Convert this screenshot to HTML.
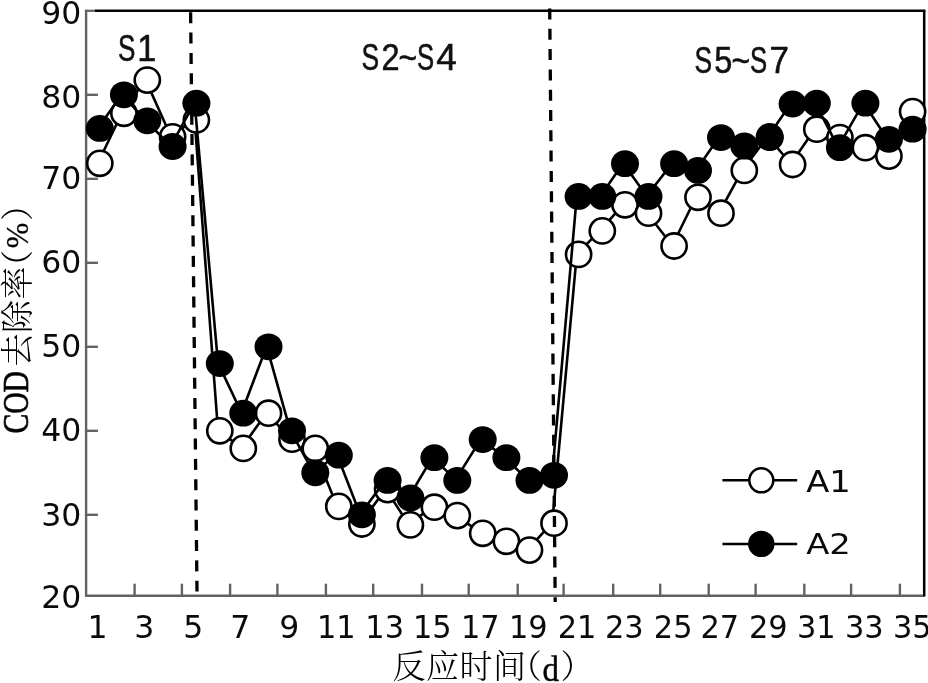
<!DOCTYPE html>
<html lang="zh"><head><meta charset="utf-8"><title>COD去除率</title>
<style>html,body{margin:0;padding:0;background:#fff;overflow:hidden}svg{display:block}.n{font-family:"DejaVu Sans","Liberation Sans",sans-serif;fill:#0a0a0a}.s{font-family:"Liberation Sans","DejaVu Sans",sans-serif;fill:#111;stroke:#111;stroke-width:0.55px}.c{font-family:"Liberation Serif","Noto Serif CJK SC",serif;fill:#000;font-weight:300}</style></head><body>
<svg width="928" height="683" viewBox="0 0 928 683" style="filter:blur(0.45px)">
<rect width="928" height="683" fill="#fff"/>
<g stroke="#626262" stroke-width="2.4" fill="none">
<line x1="86.1" y1="9.8" x2="86.1" y2="596.55"/>
<line x1="85.25" y1="595.7" x2="924.2" y2="595.7"/>
<line x1="85.25" y1="10.8" x2="96.1" y2="10.8" stroke-width="2.2"/>
<line x1="86.1" y1="514.8" x2="97.9" y2="514.8"/>
<line x1="86.1" y1="430.8" x2="97.9" y2="430.8"/>
<line x1="86.1" y1="346.8" x2="97.9" y2="346.8"/>
<line x1="86.1" y1="262.8" x2="97.9" y2="262.8"/>
<line x1="86.1" y1="178.8" x2="97.9" y2="178.8"/>
<line x1="86.1" y1="94.8" x2="97.9" y2="94.8"/>
<line x1="134.6" y1="595.7" x2="134.6" y2="583.7"/>
<line x1="181.9" y1="595.7" x2="181.9" y2="583.7"/>
<line x1="230.1" y1="595.7" x2="230.1" y2="583.7"/>
<line x1="277.4" y1="595.7" x2="277.4" y2="583.7"/>
<line x1="325.9" y1="595.7" x2="325.9" y2="583.7"/>
<line x1="373.2" y1="595.7" x2="373.2" y2="583.7"/>
<line x1="422.0" y1="595.7" x2="422.0" y2="583.7"/>
<line x1="468.7" y1="595.7" x2="468.7" y2="583.7"/>
<line x1="517.7" y1="595.7" x2="517.7" y2="583.7"/>
<line x1="563.6" y1="595.7" x2="563.6" y2="583.7"/>
<line x1="613.2" y1="595.7" x2="613.2" y2="583.7"/>
<line x1="660.2" y1="595.7" x2="660.2" y2="583.7"/>
<line x1="708.7" y1="595.7" x2="708.7" y2="583.7"/>
<line x1="755.6" y1="595.7" x2="755.6" y2="583.7"/>
<line x1="804.3" y1="595.7" x2="804.3" y2="583.7"/>
<line x1="851.1" y1="595.7" x2="851.1" y2="583.7"/>
<line x1="899.9" y1="595.7" x2="899.9" y2="583.7"/>
</g>
<g stroke="#000" stroke-width="2.5" fill="none">
<line x1="95.1" y1="10.8" x2="925.45" y2="10.8"/>
<line x1="924.2" y1="10.8" x2="924.2" y2="596.55"/>
</g>
<polyline points="99.8,163.3 123.9,113.3 147.3,80.1 172.6,136.8 196.4,120.0 219.8,430.8 243.3,448.4 268.5,413.2 292.0,439.2 315.3,448.4 338.8,506.4 361.9,524.0 387.6,489.6 410.4,524.9 434.4,507.2 457.3,515.6 482.7,533.3 506.4,541.3 529.5,550.1 554.0,523.2 578.6,254.4 602.3,230.9 625.0,204.8 648.5,213.2 674.1,246.0 698.0,197.3 721.0,213.2 744.3,170.4 769.7,136.8 792.6,164.5 816.8,129.2 839.9,137.6 865.4,147.7 888.9,156.1 912.6,111.6" fill="none" stroke="#000" stroke-width="2.6" stroke-linejoin="round" transform="translate(-1.8,-0.5)"/>
<circle cx="99.8" cy="163.3" r="12.6" fill="#fff" stroke="#000" stroke-width="2.6"/>
<circle cx="123.9" cy="113.3" r="12.6" fill="#fff" stroke="#000" stroke-width="2.6"/>
<circle cx="147.3" cy="80.1" r="12.6" fill="#fff" stroke="#000" stroke-width="2.6"/>
<circle cx="172.6" cy="136.8" r="12.6" fill="#fff" stroke="#000" stroke-width="2.6"/>
<circle cx="196.4" cy="120.0" r="12.6" fill="#fff" stroke="#000" stroke-width="2.6"/>
<circle cx="219.8" cy="430.8" r="12.6" fill="#fff" stroke="#000" stroke-width="2.6"/>
<circle cx="243.3" cy="448.4" r="12.6" fill="#fff" stroke="#000" stroke-width="2.6"/>
<circle cx="268.5" cy="413.2" r="12.6" fill="#fff" stroke="#000" stroke-width="2.6"/>
<circle cx="292.0" cy="439.2" r="12.6" fill="#fff" stroke="#000" stroke-width="2.6"/>
<circle cx="315.3" cy="448.4" r="12.6" fill="#fff" stroke="#000" stroke-width="2.6"/>
<circle cx="338.8" cy="506.4" r="12.6" fill="#fff" stroke="#000" stroke-width="2.6"/>
<circle cx="361.9" cy="524.0" r="12.6" fill="#fff" stroke="#000" stroke-width="2.6"/>
<circle cx="387.6" cy="489.6" r="12.6" fill="#fff" stroke="#000" stroke-width="2.6"/>
<circle cx="410.4" cy="524.9" r="12.6" fill="#fff" stroke="#000" stroke-width="2.6"/>
<circle cx="434.4" cy="507.2" r="12.6" fill="#fff" stroke="#000" stroke-width="2.6"/>
<circle cx="457.3" cy="515.6" r="12.6" fill="#fff" stroke="#000" stroke-width="2.6"/>
<circle cx="482.7" cy="533.3" r="12.6" fill="#fff" stroke="#000" stroke-width="2.6"/>
<circle cx="506.4" cy="541.3" r="12.6" fill="#fff" stroke="#000" stroke-width="2.6"/>
<circle cx="529.5" cy="550.1" r="12.6" fill="#fff" stroke="#000" stroke-width="2.6"/>
<circle cx="554.0" cy="523.2" r="12.6" fill="#fff" stroke="#000" stroke-width="2.6"/>
<circle cx="578.6" cy="254.4" r="12.6" fill="#fff" stroke="#000" stroke-width="2.6"/>
<circle cx="602.3" cy="230.9" r="12.6" fill="#fff" stroke="#000" stroke-width="2.6"/>
<circle cx="625.0" cy="204.8" r="12.6" fill="#fff" stroke="#000" stroke-width="2.6"/>
<circle cx="648.5" cy="213.2" r="12.6" fill="#fff" stroke="#000" stroke-width="2.6"/>
<circle cx="674.1" cy="246.0" r="12.6" fill="#fff" stroke="#000" stroke-width="2.6"/>
<circle cx="698.0" cy="197.3" r="12.6" fill="#fff" stroke="#000" stroke-width="2.6"/>
<circle cx="721.0" cy="213.2" r="12.6" fill="#fff" stroke="#000" stroke-width="2.6"/>
<circle cx="744.3" cy="170.4" r="12.6" fill="#fff" stroke="#000" stroke-width="2.6"/>
<circle cx="769.7" cy="136.8" r="12.6" fill="#fff" stroke="#000" stroke-width="2.6"/>
<circle cx="792.6" cy="164.5" r="12.6" fill="#fff" stroke="#000" stroke-width="2.6"/>
<circle cx="816.8" cy="129.2" r="12.6" fill="#fff" stroke="#000" stroke-width="2.6"/>
<circle cx="839.9" cy="137.6" r="12.6" fill="#fff" stroke="#000" stroke-width="2.6"/>
<circle cx="865.4" cy="147.7" r="12.6" fill="#fff" stroke="#000" stroke-width="2.6"/>
<circle cx="888.9" cy="156.1" r="12.6" fill="#fff" stroke="#000" stroke-width="2.6"/>
<circle cx="912.6" cy="111.6" r="12.6" fill="#fff" stroke="#000" stroke-width="2.6"/>
<polyline points="99.8,128.4 123.9,94.8 147.3,120.8 172.6,146.5 196.4,103.2 219.8,363.6 243.3,413.2 268.5,346.8 292.0,430.8 315.3,472.8 338.8,455.2 361.9,514.8 387.6,480.4 410.4,498.0 434.4,457.7 457.3,480.4 482.7,439.6 506.4,457.7 529.5,480.4 554.0,475.3 578.6,196.4 602.3,196.4 625.0,163.7 648.5,196.4 674.1,163.7 698.0,170.4 721.0,137.6 744.3,146.0 769.7,137.6 792.6,104.0 816.8,103.2 839.9,147.7 865.4,103.2 888.9,139.3 912.6,129.2" fill="none" stroke="#000" stroke-width="2.6" stroke-linejoin="round" transform="translate(-1.8,-0.5)"/>
<ellipse cx="99.8" cy="128.4" rx="14" ry="13.4" fill="#000"/>
<ellipse cx="123.9" cy="94.8" rx="14" ry="13.4" fill="#000"/>
<ellipse cx="147.3" cy="120.8" rx="14" ry="13.4" fill="#000"/>
<ellipse cx="172.6" cy="146.5" rx="14" ry="13.4" fill="#000"/>
<ellipse cx="196.4" cy="103.2" rx="14" ry="13.4" fill="#000"/>
<ellipse cx="219.8" cy="363.6" rx="14" ry="13.4" fill="#000"/>
<ellipse cx="243.3" cy="413.2" rx="14" ry="13.4" fill="#000"/>
<ellipse cx="268.5" cy="346.8" rx="14" ry="13.4" fill="#000"/>
<ellipse cx="292.0" cy="430.8" rx="14" ry="13.4" fill="#000"/>
<ellipse cx="315.3" cy="472.8" rx="14" ry="13.4" fill="#000"/>
<ellipse cx="338.8" cy="455.2" rx="14" ry="13.4" fill="#000"/>
<ellipse cx="361.9" cy="514.8" rx="14" ry="13.4" fill="#000"/>
<ellipse cx="387.6" cy="480.4" rx="14" ry="13.4" fill="#000"/>
<ellipse cx="410.4" cy="498.0" rx="14" ry="13.4" fill="#000"/>
<ellipse cx="434.4" cy="457.7" rx="14" ry="13.4" fill="#000"/>
<ellipse cx="457.3" cy="480.4" rx="14" ry="13.4" fill="#000"/>
<ellipse cx="482.7" cy="439.6" rx="14" ry="13.4" fill="#000"/>
<ellipse cx="506.4" cy="457.7" rx="14" ry="13.4" fill="#000"/>
<ellipse cx="529.5" cy="480.4" rx="14" ry="13.4" fill="#000"/>
<ellipse cx="554.0" cy="475.3" rx="14" ry="13.4" fill="#000"/>
<ellipse cx="578.6" cy="196.4" rx="14" ry="13.4" fill="#000"/>
<ellipse cx="602.3" cy="196.4" rx="14" ry="13.4" fill="#000"/>
<ellipse cx="625.0" cy="163.7" rx="14" ry="13.4" fill="#000"/>
<ellipse cx="648.5" cy="196.4" rx="14" ry="13.4" fill="#000"/>
<ellipse cx="674.1" cy="163.7" rx="14" ry="13.4" fill="#000"/>
<ellipse cx="698.0" cy="170.4" rx="14" ry="13.4" fill="#000"/>
<ellipse cx="721.0" cy="137.6" rx="14" ry="13.4" fill="#000"/>
<ellipse cx="744.3" cy="146.0" rx="14" ry="13.4" fill="#000"/>
<ellipse cx="769.7" cy="137.6" rx="14" ry="13.4" fill="#000"/>
<ellipse cx="792.6" cy="104.0" rx="14" ry="13.4" fill="#000"/>
<ellipse cx="816.8" cy="103.2" rx="14" ry="13.4" fill="#000"/>
<ellipse cx="839.9" cy="147.7" rx="14" ry="13.4" fill="#000"/>
<ellipse cx="865.4" cy="103.2" rx="14" ry="13.4" fill="#000"/>
<ellipse cx="888.9" cy="139.3" rx="14" ry="13.4" fill="#000"/>
<ellipse cx="912.6" cy="129.2" rx="14" ry="13.4" fill="#000"/>
<g stroke="#000" stroke-width="3.3" fill="none">
<line x1="190.6" y1="12.3" x2="197" y2="591.6" stroke-dasharray="11 9.3"/>
<line x1="549.7" y1="8.5" x2="555.2" y2="602" stroke-dasharray="11 9.3"/>
</g>
<g stroke="#000" stroke-width="2.5">
<line x1="722.4" y1="480.3" x2="797.2" y2="480.3"/>
<line x1="722.4" y1="543.9" x2="797.2" y2="543.9"/>
<circle cx="761.3" cy="480.3" r="12" fill="#fff"/>
</g>
<circle cx="761.3" cy="543.9" r="13.2" fill="#000"/>
<text class="n" x="806.2" y="492.4" font-size="30" textLength="44.6" lengthAdjust="spacingAndGlyphs">A1</text>
<text class="n" x="806.2" y="554" font-size="29" textLength="44.6" lengthAdjust="spacingAndGlyphs">A2</text>
<text class="n" x="81.4" y="608.3" font-size="31.5" text-anchor="end">20</text>
<text class="n" x="81.4" y="525.6" font-size="31.5" text-anchor="end">30</text>
<text class="n" x="81.4" y="440.9" font-size="31.5" text-anchor="end">40</text>
<text class="n" x="81.4" y="357.0" font-size="31.5" text-anchor="end">50</text>
<text class="n" x="81.4" y="273.1" font-size="31.5" text-anchor="end">60</text>
<text class="n" x="81.4" y="189.2" font-size="31.5" text-anchor="end">70</text>
<text class="n" x="81.4" y="107.8" font-size="31.5" text-anchor="end">80</text>
<text class="n" x="81.4" y="23.9" font-size="31.5" text-anchor="end">90</text>
<text class="n" x="97.6" y="638.4" font-size="31.5" text-anchor="middle">1</text>
<text class="n" x="144.3" y="638.4" font-size="31.5" text-anchor="middle">3</text>
<text class="n" x="193.3" y="638.4" font-size="31.5" text-anchor="middle">5</text>
<text class="n" x="240.3" y="638.4" font-size="31.5" text-anchor="middle">7</text>
<text class="n" x="289.2" y="638.4" font-size="31.5" text-anchor="middle">9</text>
<text class="n" x="336.3" y="638.4" font-size="31.5" text-anchor="middle" textLength="38.7" lengthAdjust="spacingAndGlyphs">11</text>
<text class="n" x="384.7" y="638.4" font-size="31.5" text-anchor="middle" textLength="38.7" lengthAdjust="spacingAndGlyphs">13</text>
<text class="n" x="432.3" y="638.4" font-size="31.5" text-anchor="middle" textLength="38.7" lengthAdjust="spacingAndGlyphs">15</text>
<text class="n" x="480.3" y="638.4" font-size="31.5" text-anchor="middle" textLength="38.7" lengthAdjust="spacingAndGlyphs">17</text>
<text class="n" x="528.3" y="638.4" font-size="31.5" text-anchor="middle" textLength="38.7" lengthAdjust="spacingAndGlyphs">19</text>
<text class="n" x="577.1" y="638.4" font-size="31.5" text-anchor="middle" textLength="38.7" lengthAdjust="spacingAndGlyphs">21</text>
<text class="n" x="624.3" y="638.4" font-size="31.5" text-anchor="middle" textLength="38.7" lengthAdjust="spacingAndGlyphs">23</text>
<text class="n" x="673.2" y="638.4" font-size="31.5" text-anchor="middle" textLength="38.7" lengthAdjust="spacingAndGlyphs">25</text>
<text class="n" x="719.8" y="638.4" font-size="31.5" text-anchor="middle" textLength="38.7" lengthAdjust="spacingAndGlyphs">27</text>
<text class="n" x="768.3" y="638.4" font-size="31.5" text-anchor="middle" textLength="38.7" lengthAdjust="spacingAndGlyphs">29</text>
<text class="n" x="816.3" y="638.4" font-size="31.5" text-anchor="middle" textLength="38.7" lengthAdjust="spacingAndGlyphs">31</text>
<text class="n" x="864.3" y="638.4" font-size="31.5" text-anchor="middle" textLength="38.7" lengthAdjust="spacingAndGlyphs">33</text>
<text class="n" x="912.3" y="638.4" font-size="31.5" text-anchor="middle" textLength="38.7" lengthAdjust="spacingAndGlyphs">35</text>
<text class="s" y="61.2" font-size="36.5"><tspan x="118.02" textLength="17.38" lengthAdjust="spacingAndGlyphs">S</tspan><tspan x="137.18" textLength="19.09" lengthAdjust="spacingAndGlyphs">1</tspan></text>
<text class="s" y="70.1" font-size="36.5"><tspan x="361.40" textLength="17.61" lengthAdjust="spacingAndGlyphs">S</tspan><tspan x="381.57" textLength="18.07" lengthAdjust="spacingAndGlyphs">2</tspan><tspan x="398.46" textLength="18.67" lengthAdjust="spacingAndGlyphs">~</tspan><tspan x="416.93" textLength="17.15" lengthAdjust="spacingAndGlyphs">S</tspan><tspan x="436.15" textLength="20.53" lengthAdjust="spacingAndGlyphs">4</tspan></text>
<text class="s" y="73.0" font-size="36.5"><tspan x="694.40" textLength="17.61" lengthAdjust="spacingAndGlyphs">S</tspan><tspan x="714.30" textLength="18.06" lengthAdjust="spacingAndGlyphs">5</tspan><tspan x="731.46" textLength="18.67" lengthAdjust="spacingAndGlyphs">~</tspan><tspan x="749.93" textLength="17.15" lengthAdjust="spacingAndGlyphs">S</tspan><tspan x="769.61" textLength="19.45" lengthAdjust="spacingAndGlyphs">7</tspan></text>
<text class="c" y="678.4" font-size="33"><tspan x="392.5" letter-spacing="0.5">反应时间</tspan><tspan x="508.8">（</tspan><tspan x="542.6" y="680.8" font-size="36" textLength="16.5" lengthAdjust="spacingAndGlyphs" style="font-weight:400" stroke="#111" stroke-width="0.5">d</tspan><tspan x="560.6" y="678.4">）</tspan></text>
<g transform="translate(28.5,434) rotate(-90)">
<text class="c" y="0.5" font-size="33"><tspan x="0.4" y="-0.6" font-size="35.2" textLength="62.6" lengthAdjust="spacingAndGlyphs" style="font-weight:400" stroke="#111" stroke-width="0.7">COD</tspan><tspan x="67.5" y="0.5" letter-spacing="0.5">去除率</tspan><tspan x="151" y="0.5">（</tspan><tspan x="185.8" y="-0.5" font-size="31" textLength="25.5" lengthAdjust="spacingAndGlyphs" style="font-weight:400" stroke="#111" stroke-width="0.3">%</tspan><tspan x="213" y="0.5">）</tspan></text>
</g>
</svg></body></html>
